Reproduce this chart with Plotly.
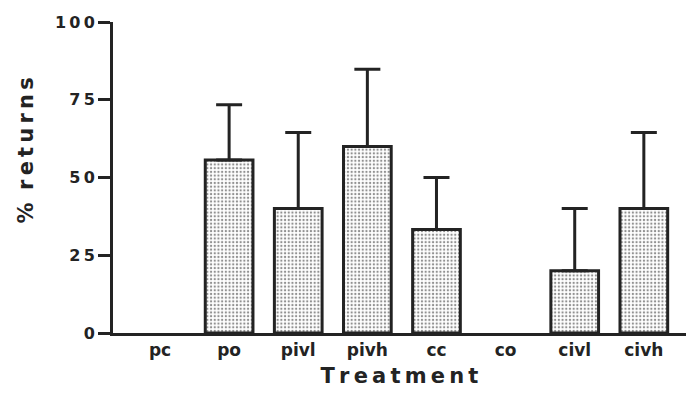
import plotly.graph_objects as go

categories = ["pc", "po", "pivl", "pivh", "cc", "co", "civl", "civh"]
returns_pct = [0, 55.6, 40.0, 60.0, 33.3, 0, 20.0, 40.0]
error_up = [0, 17.8, 24.5, 24.8, 16.7, 0, 20.0, 24.5]
y_ticks = [0, 25, 50, 75, 100]

TS = "\u2009"  # thin space for letter spacing
FONT = "DejaVu Sans"
INK = "#232323"

def spaced(s, sep=TS):
    return sep.join(list(s))

# zero-height bars are drawn as nothing at all (no outline, no whisker)
y_drawn = [v if v > 0 else None for v in returns_pct]

fig = go.Figure()
fig.add_trace(go.Bar(
    x=list(range(len(categories))),
    y=y_drawn,
    width=0.69,
    marker=dict(
        color="white",
        line=dict(color=INK, width=3),
        pattern=dict(shape=".", size=3.7, solidity=0.3, fgcolor="#222222", bgcolor="white"),
    ),
    error_y=dict(type="data", symmetric=False, array=error_up,
                 arrayminus=[0] * len(error_up), color=INK, thickness=3, width=13),
    showlegend=False,
))

fig.update_layout(
    width=686, height=394,
    margin=dict(l=113, r=0, t=22, b=61),
    paper_bgcolor="white", plot_bgcolor="white",
    font=dict(family=FONT, color=INK),
    bargap=0.3,
)
fig.update_xaxes(
    range=[-0.68, 7.61],
    tickmode="array", tickvals=list(range(len(categories))), ticktext=categories,
    tickfont=dict(family=FONT, size=17, weight="bold", color=INK),
    showline=True, linecolor=INK, linewidth=3, ticks="", showgrid=False, zeroline=False,
    title=dict(text=spaced("Treatment"), font=dict(family=FONT, size=21, weight="bold", color=INK), standoff=9),
)
fig.update_yaxes(
    range=[0, 100],
    tickmode="array", tickvals=y_ticks, ticktext=[spaced(str(v)) for v in y_ticks],
    tickfont=dict(family=FONT, size=16, weight="bold", color=INK),
    showline=True, linecolor=INK, linewidth=3, ticks="outside", ticklen=12, tickwidth=3, tickcolor=INK,
    showgrid=False, zeroline=False,
)
fig.add_annotation(
    text="%" + TS * 3 + spaced("returns"), textangle=-90,
    xref="paper", yref="paper", x=0, y=0.5, xshift=-102, yshift=27,
    showarrow=False, font=dict(family=FONT, size=21, weight="bold", color=INK),
)

fig.write_html("out.html")
